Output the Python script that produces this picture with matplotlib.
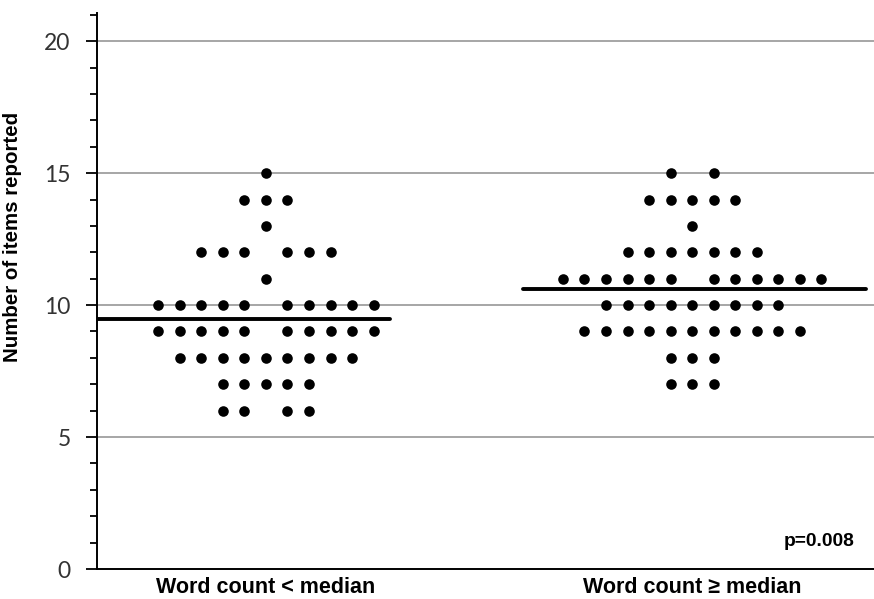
import numpy as np
import matplotlib
matplotlib.use("Agg")
import matplotlib.pyplot as plt

# Items reported per report, tallied by score for each word-count group
scores = [6, 7, 8, 9, 10, 11, 12, 13, 14, 15]
counts_below = [4, 5, 9, 10, 10, 1, 6, 1, 3, 1]
counts_above = [0, 3, 3, 11, 9, 12, 7, 1, 5, 2]
groups = ["Word count < median", "Word count \u2265 median"]
p_text = "p=0.008"


def row_offsets(n):
    """Horizontal slots for n dots sharing one score: odd rows centred,
    even rows split with an empty centre slot."""
    if n % 2:
        return list(range(-(n // 2), n // 2 + 1))
    half = n // 2
    return list(range(-half, 0)) + list(range(1, half + 1))


fig = plt.figure(figsize=(8.74, 5.99), dpi=100)
ax = fig.add_axes([0.111, 0.050, 0.889, 0.928])

x_lo, x_hi = 0.6035, 2.427
step = 0.0505
ax.set_xlim(x_lo, x_hi)
ax.set_ylim(0, 21.06)

# horizontal grid
for g in [5, 10, 15, 20]:
    ax.axhline(g, color="#a6a6a6", lw=1.4, zorder=1)

mean_spans = [(0.6035, 1.291), (1.603, 2.408)]
for i, counts in enumerate([counts_below, counts_above]):
    center = i + 1
    xs, ys = [], []
    for s, n in zip(scores, counts):
        for o in row_offsets(n):
            xs.append(center + o * step)
            ys.append(s)
    ax.scatter(xs, ys, s=58, color="black", linewidths=0, zorder=3)
    vals = np.repeat(scores, counts)
    mean = vals.mean()
    a, b = mean_spans[i]
    ax.plot([a, b], [mean, mean], color="black", lw=2.8,
            solid_capstyle="round", zorder=4)

ax.set_xticks([1, 2])
ax.set_xticklabels(groups, fontsize=15.5, fontweight="bold",
                   family="Liberation Sans")
ax.tick_params(axis="x", length=0, pad=6)

ax.set_yticks([0, 5, 10, 15, 20])
ax.set_yticks(range(0, 22), minor=True)
ax.tick_params(axis="y", which="major", length=8, width=1.3, labelsize=16.5,
               pad=11, direction="out")
ax.tick_params(axis="y", which="minor", length=5, width=1.3, direction="out")
for lbl in ax.get_yticklabels():
    lbl.set_family("Lato")
    lbl.set_color("#333333")

ax.set_ylabel("Number of items reported", fontsize=14.8, fontweight="bold",
              family="Liberation Sans")
ax.yaxis.set_label_coords(-0.097, 0.597)

for side in ["top", "right"]:
    ax.spines[side].set_visible(False)
ax.spines["left"].set_linewidth(1.4)
ax.spines["bottom"].set_linewidth(1.4)

ax.text(0.975, 0.05, p_text, transform=ax.transAxes, ha="right", va="center",
        fontsize=13.8, fontweight="bold", family="Liberation Sans")

fig.savefig("out.png", dpi=100, facecolor="white")
